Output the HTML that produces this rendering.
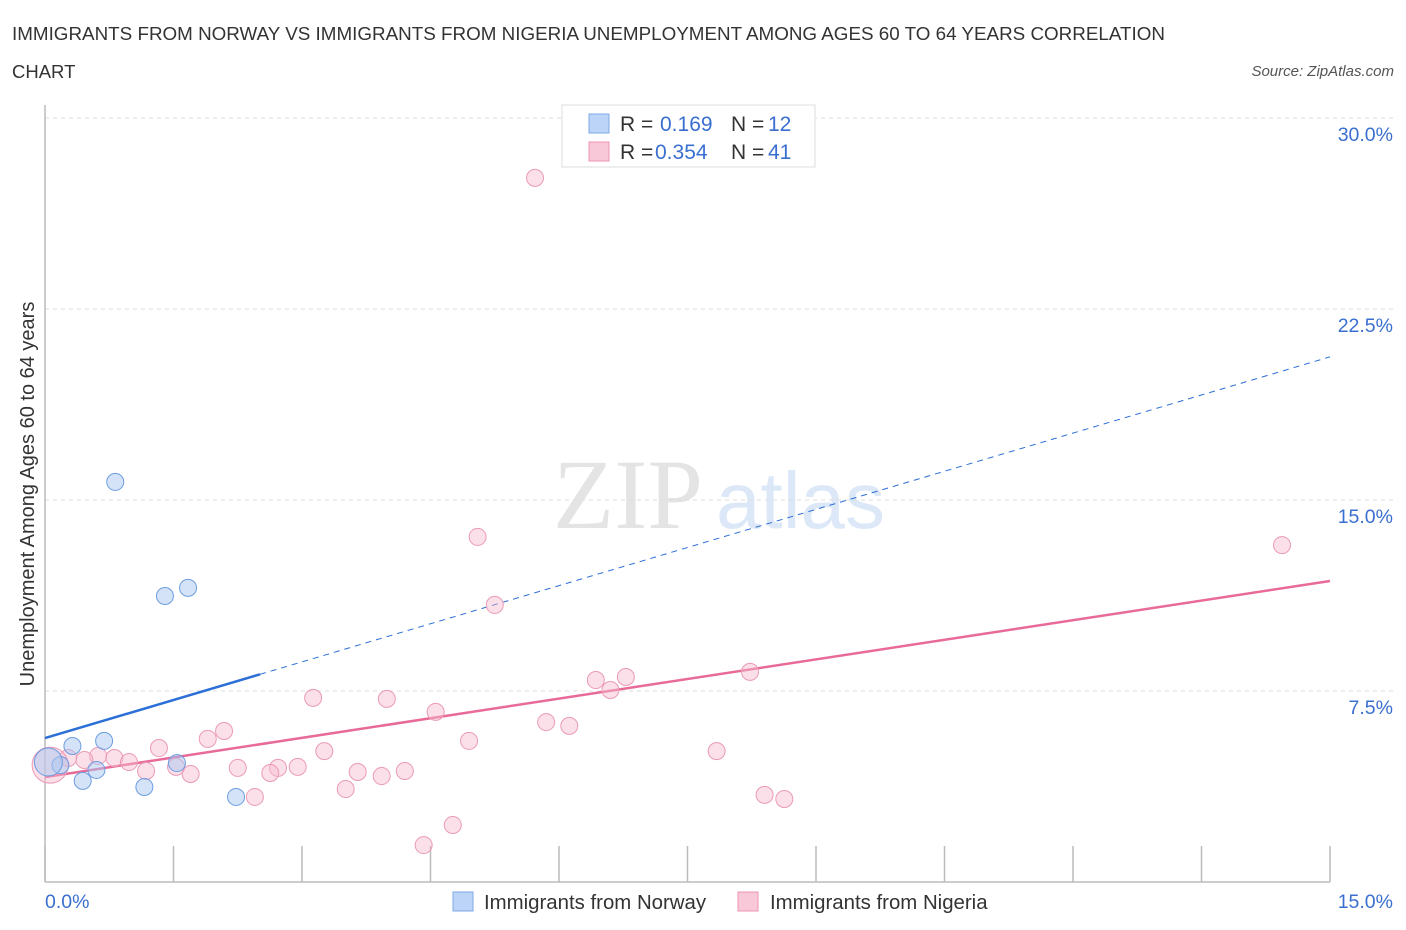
<!DOCTYPE html>
<html><head><meta charset="utf-8"><style>
body{margin:0;background:#fff;font-family:"Liberation Sans",sans-serif;}
svg{display:block}
</style></head><body>
<svg id="chart" width="1406" height="930" viewBox="0 0 1406 930" xmlns="http://www.w3.org/2000/svg">
<text x="12" y="40" font-size="18.5" fill="#333" textLength="1153" lengthAdjust="spacingAndGlyphs">IMMIGRANTS FROM NORWAY VS IMMIGRANTS FROM NIGERIA UNEMPLOYMENT AMONG AGES 60 TO 64 YEARS CORRELATION</text>
<text x="12" y="78" font-size="18.5" fill="#333">CHART</text>
<text x="1394" y="76" font-size="15" fill="#555" font-style="italic" text-anchor="end">Source: ZipAtlas.com</text>
<g>
<text x="553" y="528" font-family="Liberation Serif,serif" font-size="100" fill="#e4e4e4">ZIP</text>
<text x="716" y="528" font-size="80" fill="#dce8f8">atlas</text>
</g>
<g id="grid"></g>
<g id="axes"></g>
<g id="lines"></g>
<g id="points"></g>
<g>
<rect x="562" y="105" width="253" height="62" fill="#fff" stroke="#ddd"/>
<rect x="589" y="114" width="20" height="19" fill="#bcd4f7" stroke="#7fa8e6"/>
<rect x="589" y="142" width="20" height="19" fill="#f8c8d8" stroke="#ec95b2"/>
<text x="620" y="131" font-size="21" fill="#333">R = </text><text x="660" y="131" font-size="21" fill="#3a6fd0">0.169</text>
<text x="731" y="131" font-size="21" fill="#333">N = </text><text x="768" y="131" font-size="21" fill="#3a6fd0">12</text>
<text x="620" y="159" font-size="21" fill="#333">R = </text><text x="655" y="159" font-size="21" fill="#3a6fd0">0.354</text>
<text x="731" y="159" font-size="21" fill="#333">N = </text><text x="768" y="159" font-size="21" fill="#3a6fd0">41</text>
</g>
<g>
<rect x="453" y="892" width="20" height="19" fill="#bcd4f7" stroke="#7fa8e6"/>
<text x="484" y="909" font-size="20.4" fill="#333">Immigrants from Norway</text>
<rect x="738" y="892" width="20" height="19" fill="#f8c8d8" stroke="#ec95b2"/>
<text x="770" y="909" font-size="20.4" fill="#333">Immigrants from Nigeria</text>
</g>
</svg>
<script>
const norwayX=[0.82,1.40,1.67,0.69,0.32,0.18,0.60,0.44,1.16,1.54,2.23,0.04];
const norwayY=[15.71,11.23,11.55,5.54,5.34,4.59,4.40,3.97,3.73,4.67,3.34,4.71];
const nigeriaX=[5.72,5.05,14.44,5.25,6.78,6.43,8.23,6.60,3.13,3.99,4.56,5.85,6.12,2.09,1.90,1.33,4.95,3.26,7.84,0.62,0.81,0.46,0.98,2.25,2.95,2.72,1.70,1.18,3.65,4.20,3.93,2.63,3.51,2.45,8.40,8.63,4.76,4.42,1.53,0.27,0.06];
const nigeriaY=[27.65,13.55,13.23,10.88,8.05,7.93,8.25,7.54,7.23,7.19,6.68,6.28,6.13,5.93,5.62,5.26,5.54,5.14,5.14,4.95,4.87,4.79,4.71,4.48,4.52,4.48,4.24,4.36,4.32,4.36,4.16,4.28,3.65,3.34,3.42,3.26,2.24,1.45,4.52,4.87,4.59];
const yTicks=[7.5,15,22.5,30];
const yTickLabels=["7.5%","15.0%","22.5%","30.0%"];
const xTicks=[0,1.5,3,4.5,6,7.5,9,10.5,12,13.5,15];
const norwayTrend=[5.65,20.62];
const nigeriaTrend=[4.12,11.82];
const norwaySolidEnd=2.51;

const NS="http://www.w3.org/2000/svg";
const X=v=>45+v/15*1285;
const Y=v=>882-v/7.5*191;
function mk(tag,attrs,parent){const e=document.createElementNS(NS,tag);for(const k in attrs)e.setAttribute(k,attrs[k]);document.getElementById(parent).appendChild(e);return e;}

yTicks.forEach((t,i)=>{
 const g=mk('line',{x1:45,x2:1395,y1:Y(t),y2:Y(t),stroke:'#ddd','stroke-dasharray':'4,4'},'grid');
 
 
 const l=mk('text',{x:1393,y:Y(t)+23,'font-size':19.5,fill:'#3a6fd0','text-anchor':'end'},'grid');
 l.textContent=yTickLabels[i];
 
 
});
const ya=mk('line',{x1:45,x2:45,y1:105,y2:882,stroke:'#bbb','stroke-width':1.5},'axes');


const xa=mk('line',{x1:45,x2:1330,y1:882,y2:882,stroke:'#bbb','stroke-width':1.5},'axes');


xTicks.forEach(t=>{
 const k=mk('line',{x1:X(t),x2:X(t),y1:846,y2:882,stroke:'#bbb','stroke-width':1.5},'axes');
 
 
});
const xl0=mk('text',{x:45,y:908,'font-size':19.5,fill:'#3a6fd0'},'axes');xl0.textContent='0.0%';


const xl1=mk('text',{x:1393,y:908,'font-size':19.5,fill:'#3a6fd0','text-anchor':'end'},'axes');xl1.textContent='15.0%';


const yt=mk('text',{x:0,y:0,'font-size':20,fill:'#333','text-anchor':'middle',transform:'translate(34,494) rotate(-90)'},'axes');
yt.textContent='Unemployment Among Ages 60 to 64 years';



const lerp=(a,x)=>a[0]+(a[1]-a[0])*x/15;
const nl=mk('line',{x1:X(0),y1:Y(nigeriaTrend[0]),x2:X(15),y2:Y(nigeriaTrend[1]),stroke:'#e86a98','stroke-width':2.5},'lines');


const bs=mk('line',{x1:X(0),y1:Y(norwayTrend[0]),x2:X(norwaySolidEnd),y2:Y(lerp(norwayTrend,norwaySolidEnd)),stroke:'#2c6fd6','stroke-width':2.5},'lines');


const bd=mk('line',{x1:X(norwaySolidEnd),y1:Y(lerp(norwayTrend,norwaySolidEnd)),x2:X(15),y2:Y(norwayTrend[1]),stroke:'#2c6fd6','stroke-width':1,'stroke-dasharray':'6,5'},'lines');



nigeriaX.forEach((x,i)=>{
 const big=i===nigeriaX.length-1;
 const c=mk('circle',{cx:X(x),cy:Y(nigeriaY[i]),r:big?18:8.5,fill:'rgba(246,186,206,0.45)',stroke:'#eb9ab6','stroke-width':1},'points');
 
 
});
norwayX.forEach((x,i)=>{
 const big=i===norwayX.length-1;
 const c=mk('circle',{cx:X(x),cy:Y(norwayY[i]),r:big?14:8.5,fill:'rgba(170,200,242,0.5)',stroke:'#6d9de0','stroke-width':1},'points');
 
 
});
</script>
</body></html>
